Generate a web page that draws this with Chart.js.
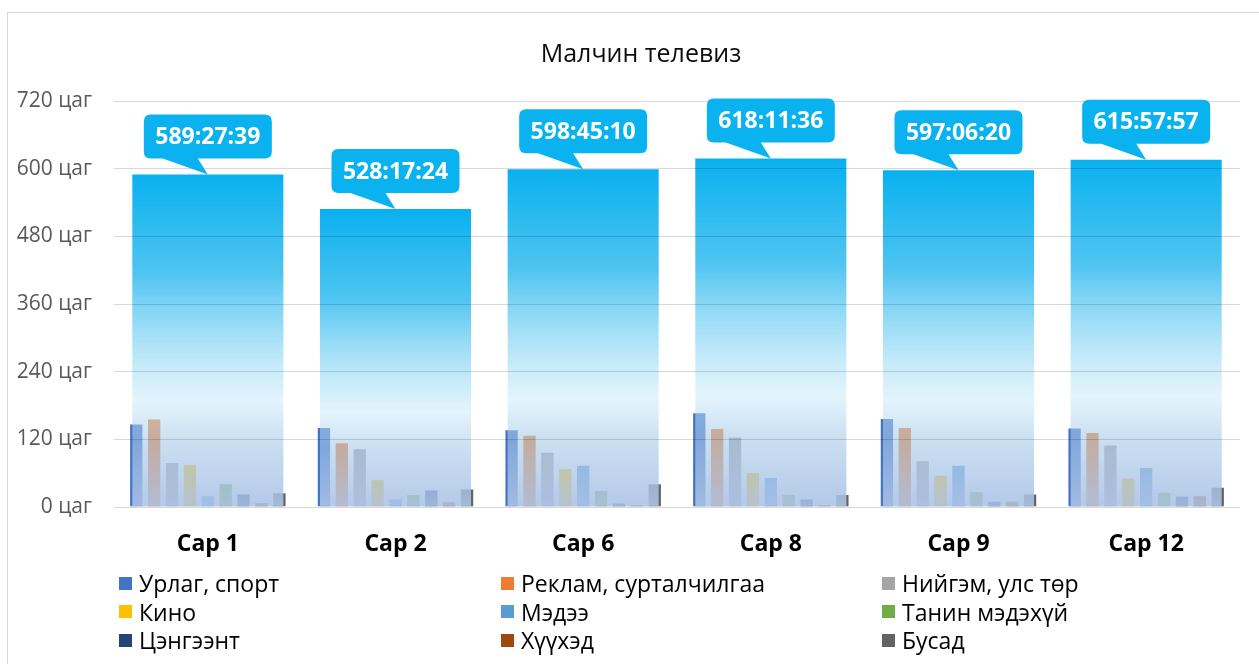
<!DOCTYPE html>
<html>
<head>
<meta charset="utf-8">
<script src="https://cdn.jsdelivr.net/npm/chart.js@4.4.1/dist/chart.umd.min.js"></script>
<style>
html,body{margin:0;padding:0;background:#fff;}
body{width:1259px;height:664px;overflow:hidden;position:relative;font-family:"Open Sans",sans-serif;}
#frame{position:absolute;left:7px;top:12px;width:1270px;height:670px;border:1px solid #d9d9d9;box-sizing:border-box;}
#wrap{position:absolute;left:0;top:0;width:1259px;height:664px;}
#title{position:absolute;left:441px;width:400px;top:34px;text-align:center;font-size:25px;line-height:36px;color:#0d0d0d;white-space:nowrap;}
#legend{position:absolute;left:119px;top:569px;display:grid;grid-template-columns:382px 381px 340px;}
.item{display:flex;align-items:center;height:28.5px;font-size:23px;color:#000;white-space:nowrap;}
.sw{width:13px;height:13px;margin-right:7px;flex:none;}
</style>
</head>
<body>
<div id="frame"></div>
<div id="wrap"><canvas id="c" width="1259" height="664"></canvas></div>
<div id="title"></div>
<div id="legend"></div>
<script>
// ---- data ----
const chartTitle = "Малчин телевиз";
const months = ["Сар 1", "Сар 2", "Сар 6", "Сар 8", "Сар 9", "Сар 12"];
const totalLabels = ["589:27:39", "528:17:24", "598:45:10", "618:11:36", "597:06:20", "615:57:57"];
const totalHours = [589.46, 528.29, 598.75, 618.19, 597.11, 615.97];

const seriesNames = ["Урлаг, спорт", "Реклам, сурталчилгаа", "Нийгэм, улс төр", "Кино", "Мэдээ", "Танин мэдэхүй", "Цэнгээнт", "Хүүхэд", "Бусад"];
const seriesColors = ["#4472C4", "#ED7D31", "#A5A5A5", "#FFC000", "#5B9BD5", "#70AD47", "#264478", "#9E480E", "#636363"];

const urlagSport = [148, 142, 138, 168, 158, 141];
const reklam     = [157, 115, 128, 140, 142, 133];
const niigem     = [80, 104, 98, 125, 83, 111];
const kino       = [76, 49, 69, 62, 57, 52];
const medee      = [21, 15, 75, 53, 75, 71];
const taninMedekhui = [42, 23, 30, 23, 28, 27];
const tsengeent  = [24, 31, 8, 15, 11, 20];
const khuukhed   = [9, 10, 5, 5, 11, 21];
const busad      = [26, 33, 42, 23, 24, 36];
const seriesValues = [urlagSport, reklam, niigem, kino, medee, taninMedekhui, tsengeent, khuukhed, busad];

const yTicks = [0, 120, 240, 360, 480, 600, 720];
const yUnit = " цаг";

// ---- title & legend (HTML) ----
document.getElementById('title').textContent = chartTitle;
const legendEl = document.getElementById('legend');
seriesNames.forEach((n, i) => {
  const d = document.createElement('div'); d.className = 'item';
  const s = document.createElement('span'); s.className = 'sw'; s.style.background = seriesColors[i];
  const t = document.createElement('span'); t.textContent = n;
  d.appendChild(s); d.appendChild(t); legendEl.appendChild(d);
});

// ---- chart ----
function bigGradient(ctx) {
  const chart = ctx.chart;
  if (!chart.chartArea || ctx.type !== 'data') return 'rgba(0,176,240,0.9)';
  const ys = chart.scales.y;
  const top = ys.getPixelForValue(ctx.raw), bot = ys.getPixelForValue(0);
  const g = chart.ctx.createLinearGradient(0, top, 0, bot);
  g.addColorStop(0.0, 'rgba(0,174,239,0.97)');
  g.addColorStop(0.3, 'rgba(60,190,240,0.9)');
  g.addColorStop(0.68, 'rgba(199,233,249,0.5)');
  g.addColorStop(0.8, 'rgba(169,202,233,0.6)');
  g.addColorStop(1.0, 'rgba(172,194,230,0.9)');
  return g;
}

const datasets = [{
  label: 'Нийт',
  data: totalHours,
  order: 0,
  grouped: false,
  backgroundColor: bigGradient,
  borderWidth: 0,
  barPercentage: 0.805,
  categoryPercentage: 1.0
}];
seriesNames.forEach((n, i) => {
  datasets.push({
    label: n,
    data: seriesValues[i],
    order: 1,
    backgroundColor: seriesColors[i],
    borderColor: 'rgba(255,255,255,0.45)',
    borderWidth: 1,
    barPercentage: 0.8,
    categoryPercentage: 0.858
  });
});

const calloutPlugin = {
  id: 'callouts',
  afterDraw(chart) {
    const ctx = chart.ctx;
    const meta = chart.getDatasetMeta(0);
    meta.data.forEach((bar, i) => {
      const cx = bar.x, topY = bar.y;
      const w = 128, h = 44, r = 7;
      const bx = cx - w / 2, by = topY - 16 - h;
      ctx.save();
      ctx.fillStyle = '#0AB3EF';
      ctx.beginPath();
      ctx.moveTo(bx + r, by);
      ctx.lineTo(bx + w - r, by);
      ctx.quadraticCurveTo(bx + w, by, bx + w, by + r);
      ctx.lineTo(bx + w, by + h - r);
      ctx.quadraticCurveTo(bx + w, by + h, bx + w - r, by + h);
      ctx.lineTo(cx - 10, by + h);
      ctx.lineTo(cx, topY);
      ctx.lineTo(cx - 45, by + h);
      ctx.lineTo(bx + r, by + h);
      ctx.quadraticCurveTo(bx, by + h, bx, by + h - r);
      ctx.lineTo(bx, by + r);
      ctx.quadraticCurveTo(bx, by, bx + r, by);
      ctx.closePath();
      ctx.fill();
      ctx.fillStyle = '#ffffff';
      ctx.font = 'bold 23px "Open Sans"';
      ctx.textAlign = 'center';
      ctx.textBaseline = 'middle';
      ctx.fillText(totalLabels[i], cx, by + h / 2 + 1);
      ctx.restore();
    });
  }
};

new Chart(document.getElementById('c'), {
  type: 'bar',
  data: { labels: months, datasets },
  plugins: [calloutPlugin],
  options: {
    responsive: false,
    animation: false,
    layout: { padding: { left: 17, right: 19, top: 101, bottom: 105 } },
    plugins: {
      legend: { display: false },
      tooltip: { enabled: false },
      title: { display: false }
    },
    scales: {
      x: {
        type: 'category',
        grid: { display: false, drawTicks: false },
        border: { display: false },
        ticks: { color: '#000', font: { family: '"Open Sans"', size: 23, weight: 'bold' }, padding: 24 },
        afterFit: (s) => { s.height = 52; }
      },
      y: {
        min: 0, max: 720,
        afterBuildTicks: (s) => { s.ticks = yTicks.map(v => ({ value: v })); },
        ticks: {
          color: '#595959',
          font: { family: '"Open Sans"', size: 21 },
          padding: 22,
          callback: (v) => v + yUnit
        },
        grid: { color: 'rgba(0,0,0,0.15)', lineWidth: 1, drawTicks: false, z: 1 },
        border: { display: false },
        afterFit: (s) => { s.width = 97; }
      }
    }
  }
});
</script>
</body>
</html>
